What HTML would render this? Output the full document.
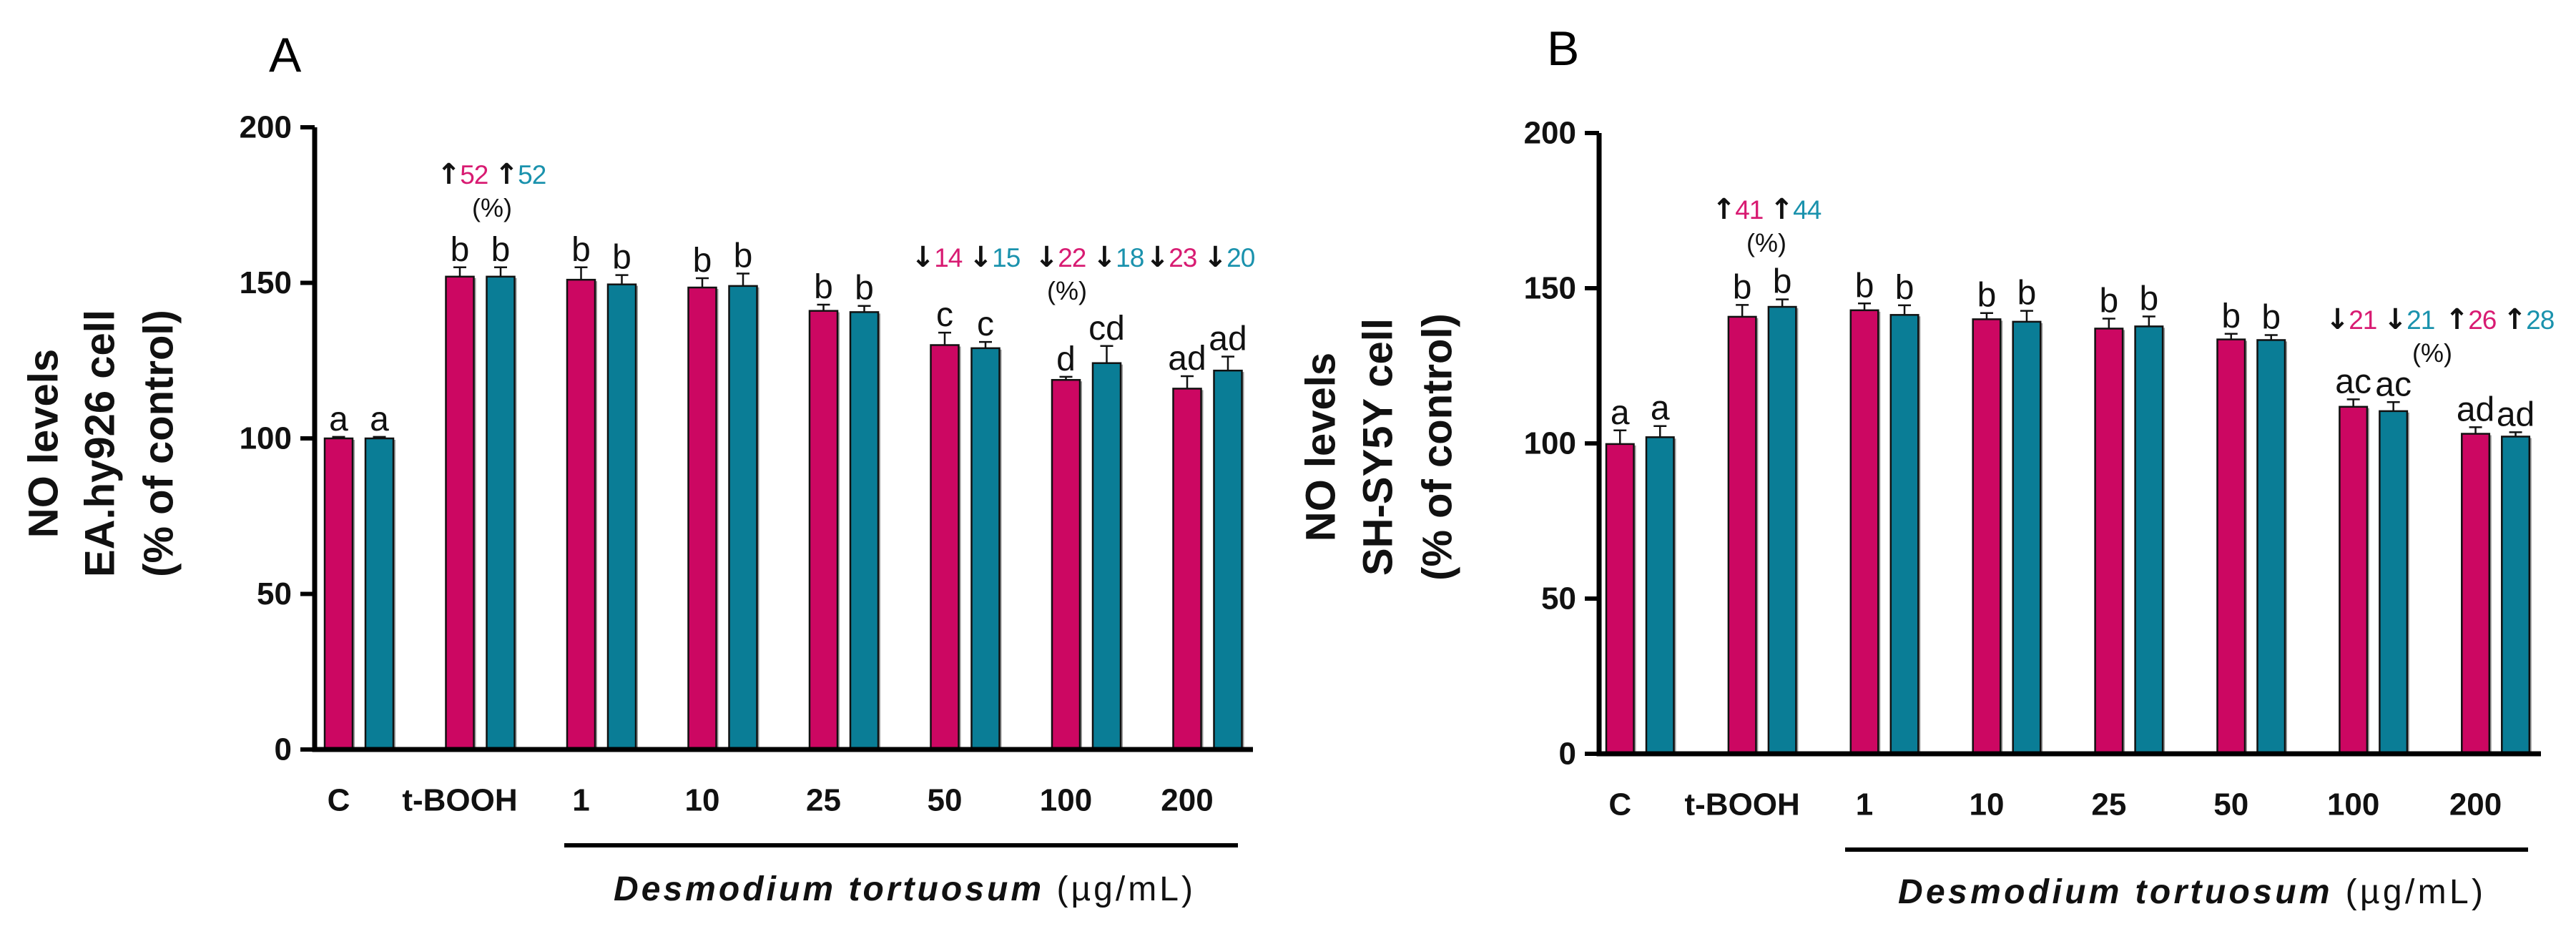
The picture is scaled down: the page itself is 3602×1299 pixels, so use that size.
<!DOCTYPE html>
<html><head><meta charset="utf-8">
<style>
html,body{margin:0;padding:0;background:#fff;}
svg{display:block;font-family:"Liberation Sans",Arial,sans-serif;}
</style></head>
<body>
<svg id="chart" width="3602" height="1299" viewBox="0 0 3602 1299" xmlns="http://www.w3.org/2000/svg"></svg>
<script>
const categories = ["C","t-BOOH","1","10","25","50","100","200"];
const yTicks = [0,50,100,150,200];
// Panel A (EA.hy926)
const pinkA = [100,152,151,148.5,141,130,118.8,116];
const tealA = [100,152,149.5,149,140.6,129,124.2,121.8];
const errPinkA = [0.5,3,4,3,2,4,1,4];
const errTealA = [0.5,3,3,4,2,2,5.5,4.5];
const lettersPinkA = ["a","b","b","b","b","c","d","ad"];
const lettersTealA = ["a","b","b","b","b","c","cd","ad"];
// Panel B (SH-SY5Y)
const pinkB = [99.8,140.8,142.9,140,137,133.5,111.8,103.1];
const tealB = [102,144,141.4,139.2,137.7,133.3,110.4,102.2];
const errPinkB = [4.4,3.8,2.2,2,3.2,1.8,2.4,2.1];
const errTealB = [3.6,2.4,3.1,3.5,3.2,1.6,2.9,1.4];
const lettersPinkB = ["a","b","b","b","b","b","ac","ad"];
const lettersTealB = ["a","b","b","b","b","b","ac","ad"];

const NS="http://www.w3.org/2000/svg";
const svg=document.getElementById('chart');
const PINK="#cc0762", TEAL="#0a7d96", PINKT="#d81b72", TEALT="#1a92ad";
function mk(tag,attrs,parent,text){const e=document.createElementNS(NS,tag);for(const k in attrs)e.setAttribute(k,attrs[k]);if(text!==undefined)e.textContent=text;(parent||svg).appendChild(e);return e;}

function panel(cfg){
  const g=mk('g',{});
  
  
  const y=v=>cfg.y0-(v/200)*(cfg.y0-cfg.yTop);
  const xP=i=>cfg.x0+i*cfg.step;
  const pl=mk('text',{x:cfg.letterX,y:cfg.letterY,'font-size':68,fill:'#000'},g,cfg.letter);
  
  
  const yt=mk('g',{transform:`translate(0,${cfg.titleY}) rotate(-90)`},g);
  
  
  cfg.titleLines.forEach((t,i)=>{
    mk('text',{x:0,y:cfg.titleXs[i],'font-size':58,'font-weight':'bold','text-anchor':'middle','dominant-baseline':'central',fill:'#111'},yt,t);
  });
  for(let i=0;i<categories.length;i++){
    [[cfg.pink[i],cfg.ep[i],cfg.lp[i],0,PINK,'pink'],[cfg.teal[i],cfg.et[i],cfg.lt[i],cfg.off,TEAL,'teal']].forEach(([v,e,l,o,c,s])=>{
      const bx=xP(i)+o, top=y(v), et=y(v+e), cx=bx+cfg.bw/2;
      const sh=mk('rect',{x:bx+3,y:top+2,width:cfg.bw,height:cfg.y0-top-2,fill:'#9a9a9a'},g);
      
      
      const r=mk('rect',{x:bx,y:top,width:cfg.bw,height:cfg.y0-top,fill:c,stroke:'#111','stroke-width':2.5},g);
      
      
      const eb=mk('path',{d:`M${cx},${top} V${et} M${cx-9},${et} H${cx+9}`,stroke:'#111','stroke-width':2.5,fill:'none'},g);
      
      
      const lt=mk('text',{x:cx,y:et-9,'font-size':48,'text-anchor':'middle',fill:'#111'},g,l);
      
      
    });
    const xl=mk('text',{x:xP(i)+cfg.bw/2,y:cfg.xlabY,'font-size':44,'font-weight':'bold','text-anchor':'middle','dominant-baseline':'central',fill:'#111'},g,categories[i]);
    
    
  }
  const ax=mk('path',{d:`M${cfg.axisX},${cfg.yTop} V${cfg.y0} H${cfg.axisEnd}`,stroke:'#000','stroke-width':7,fill:'none'},g);
  
  
  yTicks.forEach(t=>{
    const tk=mk('line',{x1:cfg.axisX-20,x2:cfg.axisX,y1:y(t),y2:y(t),stroke:'#000','stroke-width':6},g);
    
    
    const tl=mk('text',{x:cfg.axisX-32,y:y(t),'font-size':44,'font-weight':'bold','text-anchor':'end','dominant-baseline':'central',fill:'#111'},g,String(t));
    
    
  });
  const ul=mk('line',{x1:cfg.ulX1,x2:cfg.ulX2,y1:cfg.ulY,y2:cfg.ulY,stroke:'#000','stroke-width':6},g);
  
  
  const xt=mk('text',{x:cfg.xtX,y:cfg.xtY,'font-size':48,'font-weight':'bold','dominant-baseline':'central',fill:'#111',textLength:cfg.xtW,lengthAdjust:'spacing'},g);
  
  
  mk('tspan',{'font-style':'italic'},xt,'Desmodium tortuosum ');
  mk('tspan',{'font-weight':'normal'},xt,'(µg/mL)');
  cfg.ann.forEach(a=>{
    const t=mk('text',{x:a.x,y:a.y,'font-size':37,'text-anchor':'middle',fill:'#111','letter-spacing':'-1'},g);
    
    
    mk('tspan',{'font-family':'DejaVu Sans, sans-serif','font-size':40,'font-weight':'bold'},t,a.a1);
    mk('tspan',{fill:PINKT},t,a.n1+' ');
    mk('tspan',{'font-family':'DejaVu Sans, sans-serif','font-size':40,'font-weight':'bold'},t,a.a2);
    mk('tspan',{fill:TEALT},t,a.n2);
    if(a.px!==undefined){
      const p=mk('text',{x:a.px,y:a.py,'font-size':36,'text-anchor':'middle',fill:'#111'},g,'(%)');
      
      
    }
  });
}

panel({name:'panel-a',letter:'A',letterX:376,letterY:100,titleY:620,titleXs:[61,140,222],
  titleLines:['NO levels','EA.hy926 cell','(% of control)'],
  pink:pinkA,teal:tealA,ep:errPinkA,et:errTealA,lp:lettersPinkA,lt:lettersTealA,
  x0:454,step:169.5,bw:39,off:57,y0:1048,yTop:178,axisX:440,axisEnd:1752,xlabY:1119,
  ulX1:789,ulX2:1731,ulY:1182,xtX:858,xtY:1243,xtW:810,
  ann:[{x:687,y:257,a1:'↑',n1:'52',a2:'↑',n2:'52',px:688,py:303},
       {x:1350,y:373,a1:'↓',n1:'14',a2:'↓',n2:'15'},
       {x:1523,y:373,a1:'↓',n1:'22',a2:'↓',n2:'18',px:1492,py:419},
       {x:1678,y:373,a1:'↓',n1:'23',a2:'↓',n2:'20'}]});

panel({name:'panel-b',letter:'B',letterX:2163,letterY:91,titleY:625,titleXs:[1847,1927,2010],
  titleLines:['NO levels','SH-SY5Y cell','(% of control)'],
  pink:pinkB,teal:tealB,ep:errPinkB,et:errTealB,lp:lettersPinkB,lt:lettersTealB,
  x0:2246,step:170.9,bw:38.5,off:56,y0:1054,yTop:186,axisX:2236,axisEnd:3553,xlabY:1125,
  ulX1:2580,ulX2:3535,ulY:1188,xtX:2654,xtY:1247,xtW:818,
  ann:[{x:2470,y:306,a1:'↑',n1:'41',a2:'↑',n2:'44',px:2470,py:352},
       {x:3328,y:460,a1:'↓',n1:'21',a2:'↓',n2:'21',px:3401,py:506},
       {x:3495,y:460,a1:'↑',n1:'26',a2:'↑',n2:'28'}]});
</script>
</body></html>
